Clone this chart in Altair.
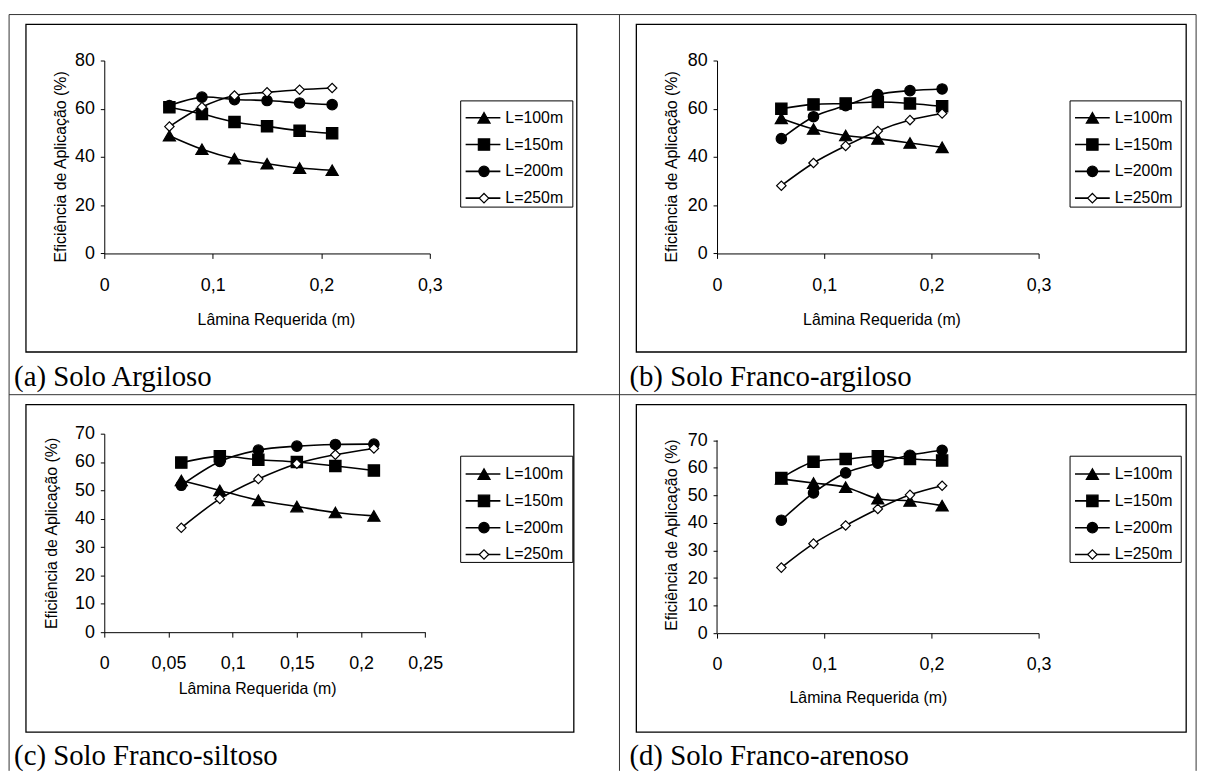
import altair as alt
import pandas as pd

SANS = "Liberation Sans"
SERIF = "Liberation Serif"

# ---------------- data ----------------
X = [0.06, 0.09, 0.12, 0.15, 0.18, 0.21]
SERIES = ["L=100m", "L=150m", "L=200m", "L=250m"]

a_100 = [48.8, 43.2, 39.3, 37.2, 35.4, 34.5]
a_150 = [60.6, 57.8, 54.5, 52.7, 50.9, 49.8]
a_200 = [61.3, 64.8, 63.8, 63.4, 62.4, 61.7]
a_250 = [52.6, 60.7, 65.5, 66.8, 67.9, 68.6]

b_100 = [56.0, 51.6, 48.9, 47.5, 45.8, 44.0]
b_150 = [60.0, 61.8, 62.2, 62.8, 62.2, 61.0]
b_200 = [47.6, 56.7, 61.3, 65.9, 67.5, 68.2]
b_250 = [28.1, 37.5, 44.6, 50.8, 55.3, 58.0]

c_100 = [53.5, 50.0, 46.5, 44.3, 42.2, 41.0]
c_150 = [59.8, 62.0, 60.8, 60.0, 58.6, 57.0]
c_200 = [51.8, 60.2, 64.2, 65.6, 66.2, 66.3]
c_250 = [36.8, 47.0, 54.0, 59.4, 62.6, 64.8]

d_100 = [56.0, 54.5, 53.0, 48.8, 48.0, 46.3]
d_150 = [56.3, 62.2, 63.2, 64.2, 63.2, 62.7]
d_200 = [41.0, 50.9, 58.2, 61.7, 64.6, 66.4]
d_250 = [23.8, 32.5, 39.1, 45.1, 50.2, 53.5]

X_TITLE = "Lâmina Requerida (m)"
Y_TITLE = "Eficiência de Aplicação (%)"

SHAPES = ["triangle-up", "square", "circle", "diamond"]
FILLS = ["black", "black", "black", "white"]
SIZES = [150, 90, 110, 240]


def long_df(lists):
    rows = []
    for s, vals in zip(SERIES, lists):
        for x, v in zip(X, vals):
            rows.append({"x": x, "y": v, "series": s})
    return pd.DataFrame(rows)


def one():
    return pd.DataFrame({"k": [0]})


def hrule(x0, x1, y, color="#333333", sw=1.0):
    return alt.Chart(one()).mark_rule(color=color, strokeWidth=sw).encode(
        x=alt.value(x0), x2=alt.value(x1), y=alt.value(y))


def vrule(x, y0, y1, color="#333333", sw=1.0):
    return alt.Chart(one()).mark_rule(color=color, strokeWidth=sw).encode(
        x=alt.value(x), y=alt.value(y0), y2=alt.value(y1))


def box(x0, x1, y0, y1, fill="white", op=1.0, sw=1.0):
    return alt.Chart(one()).mark_rect(fill=fill, fillOpacity=op, stroke="black",
                                      strokeWidth=sw).encode(
        x=alt.value(x0), x2=alt.value(x1), y=alt.value(y0), y2=alt.value(y1))


def panel(P, extras=()):
    df = long_df(P["data"])
    xs = alt.Scale(domain=P["xdom"], nice=False, zero=False)
    ys = alt.Scale(domain=P["ydom"], nice=False, zero=False)
    x_axis = alt.Axis(values=P["xticks"],
                      labelExpr="replace(toString(datum.value), '.', ',')",
                      title=X_TITLE, grid=False, domainColor="black", domainWidth=1,
                      tickColor="black", tickSize=5, labelPadding=18,
                      labelFont=SANS, labelFontSize=18, labelColor="black",
                      labelFlush=False, labelOverlap=False,
                      titleFont=SANS, titleFontSize=16, titleFontWeight="normal",
                      titleColor="black", titleX=P["xtitle"][0], titleY=P["xtitle"][1],
                      titleBaseline="middle", titleAlign="center")
    y_axis = alt.Axis(values=P["yticks"], title=Y_TITLE, grid=False,
                      domain=P.get("ydomainline", True),
                      domainColor="black", domainWidth=1, tickColor="black",
                      tickSize=4, labelPadding=6, labelFont=SANS, labelFontSize=18,
                      labelColor="black", labelFlush=False, labelOverlap=False,
                      titleFont=SANS, titleFontSize=16, titleFontWeight="normal",
                      titleColor="black", titleX=P["ytitle"][0], titleY=P["ytitle"][1],
                      titleBaseline="middle", titleAlign="center", titleAngle=270)

    shape_enc = alt.Shape("series:N", scale=alt.Scale(domain=SERIES, range=SHAPES), legend=None)
    fill_enc = alt.Fill("series:N", scale=alt.Scale(domain=SERIES, range=FILLS), legend=None)
    size_enc = alt.Size("series:N", scale=alt.Scale(domain=SERIES, range=SIZES), legend=None)

    fx0, fx1, fy0, fy1 = P["frame"]
    frame = box(fx0, fx1, fy0, fy1, fill="white", op=0.0, sw=1.3)

    lines = alt.Chart(df).mark_line(color="black", strokeWidth=1.6,
                                    interpolate="cardinal").encode(
        x=alt.X("x:Q", scale=xs, axis=x_axis),
        y=alt.Y("y:Q", scale=ys, axis=y_axis),
        detail="series:N")
    pts = alt.Chart(df).mark_point(filled=True, stroke="black", strokeWidth=1.2,
                                   opacity=1).encode(
        x=alt.X("x:Q", scale=xs, axis=x_axis),
        y=alt.Y("y:Q", scale=ys, axis=None),
        shape=shape_enc, fill=fill_enc, size=size_enc)

    # legend
    lb = P["legbox"]
    r0, r1 = P["legrows"]
    ldf = pd.DataFrame({"series": SERIES})
    ly = alt.Y("series:N", scale=alt.Scale(type="point", domain=SERIES,
                                           range=[r0, r1], padding=0), axis=None)
    leg_box = box(lb[0], lb[1], lb[2], lb[3], fill="white", op=1.0, sw=1.0)
    leg_line = alt.Chart(ldf).mark_rule(color="black", strokeWidth=1.6).encode(
        x=alt.value(P["legline"][0]), x2=alt.value(P["legline"][1]), y=ly)
    leg_pt = alt.Chart(ldf).mark_point(filled=True, stroke="black", strokeWidth=1.2,
                                       opacity=1).encode(
        x=alt.value(P["legmark"]), y=ly, shape=shape_enc, fill=fill_enc, size=size_enc)
    leg_txt = alt.Chart(ldf).mark_text(align="left", baseline="middle", font=SANS,
                                       fontSize=16, color="black").encode(
        x=alt.value(P["legtext"]), y=ly, text="series:N")

    cap_text, cx, cy = P["caption"]
    caption = alt.Chart(one()).mark_text(align="left", baseline="alphabetic",
                                         font=SERIF, fontSize=29,
                                         color="black").encode(
        x=alt.value(cx), y=alt.value(cy), text=alt.value(cap_text))

    layers = [lines, pts, frame] + list(extras) + [leg_box, leg_line, leg_pt,
                                                   leg_txt, caption]
    return alt.layer(*layers).resolve_scale(y="independent").properties(
        width=P["w"], height=P["h"])


A = dict(data=[a_100, a_150, a_200, a_250], w=328, h=194.4,
         xdom=[0, 0.3], xticks=[0, 0.1, 0.2, 0.3],
         ydom=[0, 80], yticks=[0, 20, 40, 60, 80],
         ytitle=(-44, 106.7), xtitle=(173, 67),
         frame=(-78.9, 476.1, -36.3, 293.7),
         legbox=(359.1, 472.1, 40.7, 147.7), legrows=(57.7, 138.7),
         legline=(364.1, 399.1), legmark=382.6, legtext=404.1,
         caption=("(a) Solo Argiloso", -90.9, 327.7))

B = dict(data=[b_100, b_150, b_200, b_250], w=324, h=194.4,
         xdom=[0, 0.3], xticks=[0, 0.1, 0.2, 0.3],
         ydom=[0, 80], yticks=[0, 20, 40, 60, 80],
         ytitle=(-46.3, 106.7), xtitle=(165.7, 67),
         frame=(-81.3, 472.7, -36.3, 293.7),
         legbox=(355.7, 467.7, 40.7, 147.7), legrows=(57.7, 138.7),
         legline=(360.7, 395.7), legmark=378.2, legtext=400.7,
         caption=("(b) Solo Franco-argiloso", -88.3, 327.7))

C = dict(data=[c_100, c_150, c_200, c_250], w=323.4, h=200,
         xdom=[0, 0.25], xticks=[0, 0.05, 0.1, 0.15, 0.2, 0.25],
         ydom=[0, 70], yticks=[0, 10, 20, 30, 40, 50, 60, 70],
         ytitle=(-52.9, 100), xtitle=(154, 56.7),
         frame=(-78.9, 473.1, -29.3, 300.7),
         legbox=(359.1, 472.1, 22.7, 129.7), legrows=(40.7, 121.7),
         legline=(364.1, 399.1), legmark=382.6, legtext=404.1,
         caption=("(c) Solo Franco-siltoso", -90.9, 333.7))

D = dict(data=[d_100, d_150, d_200, d_250], w=324, h=201,
         xdom=[0, 0.3], xticks=[0, 0.1, 0.2, 0.3],
         ydom=[0, 72.41], yticks=[0, 10, 20, 30, 40, 50, 60, 70],
         ydomainline=False,
         ytitle=(-46.3, 101.7), xtitle=(152, 64.7),
         frame=(-81.3, 472.7, -29.3, 300.7),
         legbox=(355.7, 467.7, 22.7, 129.7), legrows=(40.7, 121.7),
         legline=(360.7, 395.7), legmark=378.2, legtext=400.7,
         caption=("(d) Solo Franco-arenoso", -88.3, 333.7))

# table lines (drawn in panel a's coordinates)
table = [
    hrule(-95.9, 1100.1, -46.3),
    hrule(-95.9, 1100.1, 336.7),
    vrule(-95.9, -46.3, 715.7),
    vrule(519.1, -46.3, 715.7),
    vrule(1100.1, -46.3, 715.7),
]

# y axis line of panel d, from 0 to 70
d_axis_line = alt.Chart(one()).mark_rule(color="black", strokeWidth=1).encode(
    x=alt.value(0),
    y=alt.Y(datum=0, scale=alt.Scale(domain=[0, 72.41], nice=False, zero=False), axis=None),
    y2=alt.Y2(datum=70))

pa = panel(A, extras=table)
pb = panel(B)
pc = panel(C)
pd_ = panel(D, extras=[d_axis_line])

chart = alt.concat(pa, pb, pc, pd_, columns=2,
                   spacing={"row": 175, "column": 289.4},
                   bounds="flush", align="all").properties(
    padding={"left": 0, "top": 3, "right": 0, "bottom": 0},
    background="white",
).configure_view(stroke=None)

chart.save("out.html", embed_options={"renderer": "svg", "actions": False})
